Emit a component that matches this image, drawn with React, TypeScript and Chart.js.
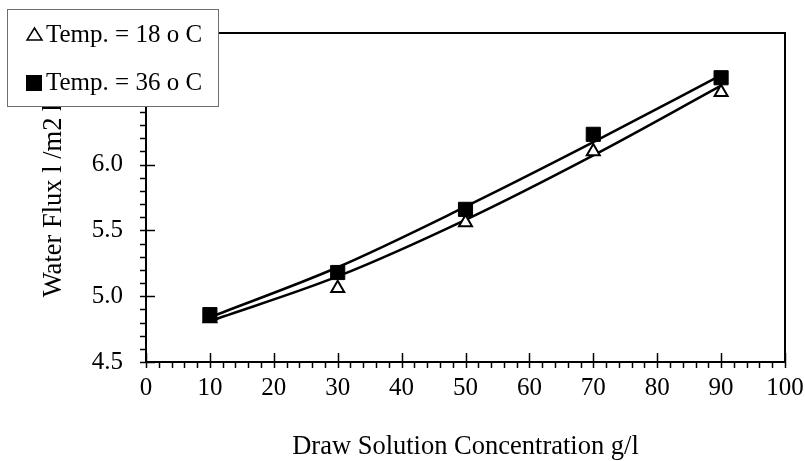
import React, { useEffect, useRef } from 'react';
import { Chart, registerables } from 'chart.js';

Chart.register(...registerables);

// ---- data ----
const concentrations = [10, 30, 50, 70, 90];
const flux18 = [4.83, 5.06, 5.56, 6.1, 6.55];
const flux36 = [4.86, 5.18, 5.66, 6.23, 6.66];
// trend (fitted) curves, read at the same concentrations
const trend18 = [4.81, 5.15, 5.58, 6.07, 6.6];
const trend36 = [4.84, 5.22, 5.68, 6.17, 6.68];
const legendLabels = ['Temp. = 18 o C', 'Temp. = 36 o C'];
const xTitle = 'Draw Solution Concentration g/l';
const yTitle = 'Water Flux l /m2 h';
const xTickRange = { min: 0, max: 100, step: 10, minor: 2 };
const yTickRange = { min: 4.5, max: 7.0, step: 0.5, minor: 0.1 };

const FONT = '"Liberation Serif", "Times New Roman", serif';

const toPoints = (ys: number[]) => concentrations.map((x, i) => ({ x, y: ys[i] }));

const framePlugin = {
  id: 'frameAndLegend',
  afterDraw(chart: any) {
    const { ctx, chartArea: a, scales } = chart;
    const xs = scales.x;
    const ys = scales.y;
    ctx.save();
    ctx.strokeStyle = '#000';
    // ticks
    ctx.lineWidth = 1.5;
    const nY = Math.round((yTickRange.max - yTickRange.min) / yTickRange.minor);
    const perMajorY = Math.round(yTickRange.step / yTickRange.minor);
    for (let i = 0; i <= nY; i++) {
      const v = yTickRange.min + i * yTickRange.minor;
      const py = Math.round(ys.getPixelForValue(v)) + 0.5;
      const major = i % perMajorY === 0;
      ctx.beginPath();
      ctx.moveTo(a.left - 6, py);
      ctx.lineTo(a.left + (major ? 9 : 0), py);
      ctx.stroke();
    }
    const nX = Math.round((xTickRange.max - xTickRange.min) / xTickRange.minor);
    const perMajorX = Math.round(xTickRange.step / xTickRange.minor);
    for (let i = 0; i <= nX; i++) {
      const v = xTickRange.min + i * xTickRange.minor;
      const px = Math.round(xs.getPixelForValue(v)) + 0.5;
      const major = i % perMajorX === 0;
      ctx.beginPath();
      ctx.moveTo(px, a.bottom + 6);
      ctx.lineTo(px, a.bottom - (major ? 9 : 0));
      ctx.stroke();
    }
    // frame
    ctx.lineWidth = 2;
    ctx.strokeRect(a.left, a.top, a.right - a.left, a.bottom - a.top);

    // legend box
    ctx.fillStyle = '#fff';
    ctx.fillRect(7, 9, 211, 97);
    ctx.lineWidth = 1;
    ctx.strokeStyle = '#6e6e6e';
    ctx.strokeRect(7.5, 9.5, 211, 97);
    // triangle marker
    ctx.strokeStyle = '#000';
    ctx.lineWidth = 1.5;
    ctx.beginPath();
    ctx.moveTo(34.5, 28);
    ctx.lineTo(42, 40);
    ctx.lineTo(27, 40);
    ctx.closePath();
    ctx.stroke();
    // square marker
    ctx.fillStyle = '#000';
    ctx.fillRect(26, 75, 16, 16);
    // legend text
    ctx.font = `25px ${FONT}`;
    ctx.textAlign = 'left';
    ctx.textBaseline = 'alphabetic';
    ctx.fillText(legendLabels[0], 46, 42);
    ctx.fillText(legendLabels[1], 46, 90);
    ctx.restore();
  },
};

export default function App() {
  const ref = useRef<HTMLCanvasElement | null>(null);
  useEffect(() => {
    if (!ref.current) return;
    const chart = new Chart(ref.current, {
      type: 'scatter',
      data: {
        datasets: [
          {
            label: legendLabels[1],
            data: toPoints(flux36),
            pointStyle: 'rect',
            pointRadius: 10,
            backgroundColor: '#000',
            borderColor: '#000',
            borderWidth: 1,
            showLine: false,
          },
          {
            label: legendLabels[0],
            data: toPoints(flux18),
            pointStyle: 'triangle',
            pointRadius: 7.5,
            backgroundColor: '#fff',
            borderColor: '#000',
            borderWidth: 2,
            showLine: false,
          },
          {
            label: 'trend36',
            data: toPoints(trend36),
            showLine: true,
            pointRadius: 0,
            borderColor: '#000',
            borderWidth: 2.5,
            cubicInterpolationMode: 'monotone',
            fill: false,
          },
          {
            label: 'trend18',
            data: toPoints(trend18),
            showLine: true,
            pointRadius: 0,
            borderColor: '#000',
            borderWidth: 2.5,
            cubicInterpolationMode: 'monotone',
            fill: false,
          },
        ] as any,
      },
      options: {
        animation: false,
        responsive: false,
        devicePixelRatio: 1,
        layout: { padding: { top: 33, right: 20, left: 0, bottom: 0 } },
        plugins: { legend: { display: false }, tooltip: { enabled: false } },
        scales: {
          x: {
            type: 'linear',
            min: xTickRange.min,
            max: xTickRange.max,
            grid: { display: false },
            border: { display: false },
            ticks: {
              stepSize: xTickRange.step,
              color: '#000',
              font: { family: FONT, size: 25 },
              padding: 3,
            },
            title: {
              display: true,
              text: xTitle,
              color: '#000',
              font: { family: FONT, size: 26.5, lineHeight: 1 },
              padding: { top: 0, bottom: 1 },
            },
            afterFit: (s: any) => {
              s.height = 99;
              s.paddingLeft = 0;
              s.paddingRight = 0;
            },
          },
          y: {
            type: 'linear',
            min: yTickRange.min,
            max: yTickRange.max,
            grid: { display: false },
            border: { display: false },
            ticks: {
              stepSize: yTickRange.step,
              color: '#000',
              font: { family: FONT, size: 25 },
              padding: 15,
              callback: (v: any) => Number(v).toFixed(1),
            },
            title: {
              display: true,
              text: yTitle,
              color: '#000',
              font: { family: FONT, size: 26.5, lineHeight: 1 },
              padding: { top: 41, bottom: 0 },
            },
            afterFit: (s: any) => {
              s.width = 146;
              s.paddingTop = 0;
              s.paddingBottom = 0;
            },
          },
        },
      } as any,
      plugins: [framePlugin],
    });
    return () => chart.destroy();
  }, []);
  return (
    <div style={{ position: 'absolute', left: 0, top: 0, width: 805, height: 461, background: '#fff' }}>
      <canvas ref={ref} width={805} height={461} />
    </div>
  );
}
